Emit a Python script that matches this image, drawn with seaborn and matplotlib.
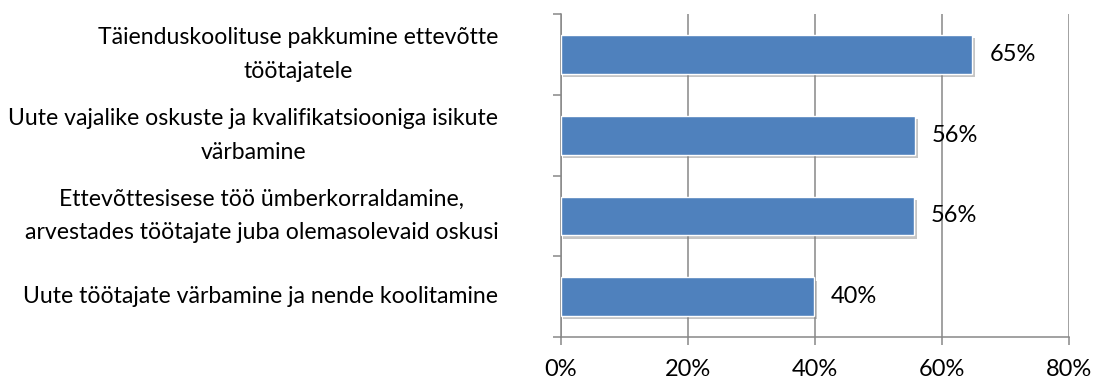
import matplotlib
matplotlib.use("Agg")
import matplotlib.pyplot as plt
import matplotlib.patheffects as pe
from matplotlib.ticker import FixedLocator, FuncFormatter
import seaborn as sns
import pandas as pd

categories = [
    "Täienduskoolituse pakkumine ettevõtte\ntöötajatele",
    "Uute vajalike oskuste ja kvalifikatsiooniga isikute\nvärbamine",
    "Ettevõttesisese töö ümberkorraldamine,\narvestades töötajate juba olemasolevaid oskusi",
    "Uute töötajate värbamine ja nende koolitamine",
]
values = [64.8, 55.8, 55.6, 39.9]
x_ticks = [0, 20, 40, 60, 80]

df = pd.DataFrame({"category": categories, "share": values})

sns.set_theme(style="white")
plt.rcParams["font.family"] = ["Lato", "DejaVu Sans"]

BAR = "#4F81BD"
GRID = "#878787"
FS = 17
FS_CAT = 16.6

fig = plt.figure(figsize=(10.96, 3.83), dpi=100)
ax = fig.add_axes([0.5116, 0.1201, 0.4635, 0.8433])

sns.barplot(data=df, x="share", y="category", orient="h", color=BAR,
            width=0.48, edgecolor="white", linewidth=1.0, saturation=1,
            ax=ax, zorder=3)

for bar in ax.patches:
    bar.set_path_effects([
        pe.SimplePatchShadow(offset=(2, -2.5), shadow_rgbFace="#7f7f7f", alpha=0.45),
        pe.Normal(),
    ])

for bar, v in zip(ax.patches, values):
    ax.text(v + 2.7, bar.get_y() + bar.get_height() / 2, f"{v:.0f}%",
            va="center", ha="left", fontsize=FS, color="black", zorder=4)

ax.set_xlim(0, 80)
ax.set_ylim(3.5, -0.5)
ax.xaxis.set_major_locator(FixedLocator(x_ticks))
ax.xaxis.set_major_formatter(FuncFormatter(lambda v, p: f"{v:.0f}%"))
ax.grid(axis="x", color=GRID, linewidth=1.1, zorder=0)
ax.grid(axis="y", visible=False)

ax.set_yticks(range(len(categories)))
ax.set_yticklabels(categories, fontsize=FS_CAT, color="black", va="center",
                   multialignment="center", linespacing=1.75)

# category boundary ticks on the left axis
ax.yaxis.set_minor_locator(FixedLocator([-0.5, 0.5, 1.5, 2.5, 3.5]))
ax.tick_params(axis="y", which="minor", left=True, length=6, width=1.1, color=GRID)
ax.tick_params(axis="y", which="major", left=False, length=0, pad=45)
ax.tick_params(axis="x", which="major", bottom=True, length=6, width=1.1,
               color=GRID, labelsize=FS, labelcolor="black", pad=10)

ax.set_xlabel("")
ax.set_ylabel("")
for side in ["top", "right"]:
    ax.spines[side].set_visible(False)
for side in ["left", "bottom"]:
    ax.spines[side].set_color(GRID)
    ax.spines[side].set_linewidth(1.1)

fig.savefig("out.png", dpi=100, facecolor="white")
